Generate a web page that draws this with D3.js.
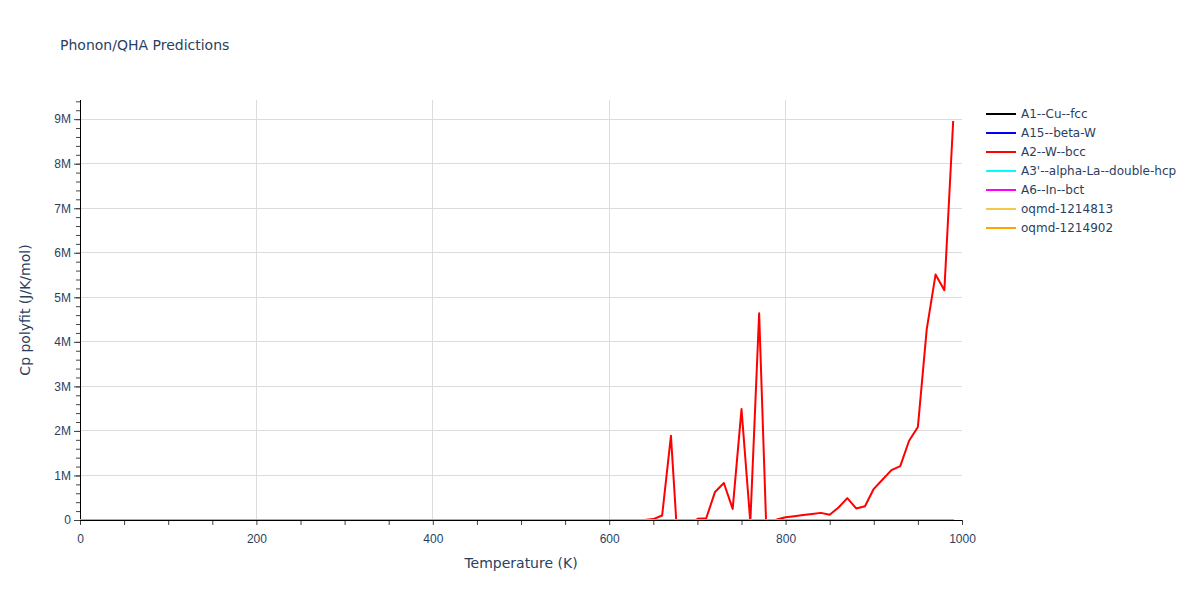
<!DOCTYPE html>
<html>
<head>
<meta charset="utf-8">
<script src="https://cdn.jsdelivr.net/npm/d3@7"></script>
<style>
  html, body { margin: 0; padding: 0; background: #fff; }
  svg { display: block; font-family: "DejaVu Sans", verdana, arial, sans-serif; }
</style>
</head>
<body>
<svg id="chart" width="1200" height="600"></svg>
<script>
// ---- data ----
const seriesNames = ["A1--Cu--fcc", "A15--beta-W", "A2--W--bcc", "A3'--alpha-La--double-hcp", "A6--In--bct", "oqmd-1214813", "oqmd-1214902"];
const seriesColors = ["#000000", "#0000ff", "#ff0000", "#00ffff", "#ff00ff", "#f2c94c", "#ffa500"];

// temperatures (K), 0..990 step 10
const temperatures = [0,10,20,30,40,50,60,70,80,90,100,110,120,130,140,150,160,170,180,190,200,210,220,230,240,250,260,270,280,290,300,310,320,330,340,350,360,370,380,390,400,410,420,430,440,450,460,470,480,490,500,510,520,530,540,550,560,570,580,590,600,610,620,630,640,650,660,670,680,690,700,710,720,730,740,750,760,770,780,790,800,810,820,830,840,850,860,870,880,890,900,910,920,930,940,950,960,970,980,990];

// Cp (J/K/mol) of the well-behaved phases: indistinguishable from 0 at this scale
const cpA1 =  [0,2,9,14,17,19,20,21,22,22,23,23,23,23,24,24,24,24,24,24,24,24,24,24,24,24,24,24,24,24,24,25,25,25,25,25,25,25,25,25,25,25,25,25,25,25,25,25,25,25,25,25,25,25,25,25,25,25,25,25,25,25,25,25,25,25,25,25,25,25,25,25,25,25,25,25,25,25,25,25,25,25,25,25,25,25,25,25,25,25,25,25,25,25,25,25,25,25,25,25];
const cpA15 = [0,3,10,15,18,20,21,22,22,23,23,23,24,24,24,24,24,24,24,24,24,24,24,24,24,24,24,24,24,24,25,25,25,25,25,25,25,25,25,25,25,25,25,25,25,25,25,25,25,25,25,25,25,25,25,25,25,25,25,25,25,25,25,25,25,25,25,25,25,25,25,25,25,25,25,25,25,25,25,25,25,25,25,25,25,25,25,25,25,25,25,25,25,25,25,25,25,25,25,25];
const cpA2 = [0,0,0,0,0,0,0,0,0,0,0,0,0,0,0,0,0,0,0,0,0,0,0,0,0,0,0,0,0,0,0,0,0,0,0,0,0,0,0,0,0,0,0,0,0,0,0,0,0,0,0,0,0,0,0,0,0,0,0,0,0,0,0,0,0,
  20000,100000,1890000,-1260000,-2000000,30000,40000,630000,830000,250000,2490000,-50000,4640000,-1310000,10000,
  60000,85000,110000,135000,160000,120000,280000,490000,260000,310000,
  700000,910000,1120000,1210000,1780000,2090000,4280000,5510000,5160000,8960000];
const cpA3 =  [0,4,11,16,19,20,21,22,23,23,23,24,24,24,24,24,24,24,24,24,24,24,24,24,24,25,25,25,25,25,25,25,25,25,25,25,25,25,25,25,25,25,25,25,25,25,25,25,25,25,25,25,25,25,25,25,25,25,25,25,25,25,25,25,25,25,25,25,25,25,25,25,25,25,25,25,25,25,25,25,25,25,25,25,25,25,25,25,25,25,25,25,25,25,25,25,25,25,25,25];
const cpA6 =  [0,5,13,18,20,21,22,23,23,24,24,24,24,24,24,24,24,24,24,25,25,25,25,25,25,25,25,25,25,25,25,25,25,25,25,25,25,25,25,25,25,25,25,25,25,25,25,25,25,25,25,25,25,25,25,25,25,25,25,25,25,25,25,25,25,25,25,25,25,25,25,25,25,25,25,25,25,25,25,25,25,25,25,25,25,25,25,25,25,25,25,25,25,25,25,25,25,25,25,25];
const cpOq1 = [0,3,10,15,18,20,21,22,22,23,23,23,24,24,24,24,24,24,24,24,24,24,24,24,24,24,24,24,24,24,24,25,25,25,25,25,25,25,25,25,25,25,25,25,25,25,25,25,25,25,25,25,25,25,25,25,25,25,25,25,25,25,25,25,25,25,25,25,25,25,25,25,25,25,25,25,25,25,25,25,25,25,25,25,25,25,25,25,25,25,25,25,25,25,25,25,25,25,25,25];
const cpOq2 = [0,3,10,15,18,20,21,22,22,23,23,23,24,24,24,24,24,24,24,24,24,24,24,24,24,24,24,24,24,24,24,25,25,25,25,25,25,25,25,25,25,25,25,25,25,25,25,25,25,25,25,25,25,25,25,25,25,25,25,25,25,25,25,25,25,25,25,25,25,25,25,25,25,25,25,25,25,25,25,25,25,25,25,25,25,25,25,25,25,25,25,25,25,25,25,25,25,25,25,25];

const seriesValues = [cpA1, cpA15, cpA2, cpA3, cpA6, cpOq1, cpOq2];

const xTickValues = [0, 200, 400, 600, 800, 1000];
const yTickValues = [0, 1e6, 2e6, 3e6, 4e6, 5e6, 6e6, 7e6, 8e6, 9e6];
const yTickLabels = ["0", "1M", "2M", "3M", "4M", "5M", "6M", "7M", "8M", "9M"];

// ---- layout ----
const M = { left: 80, right: 962, top: 100, bottom: 520 };
const textColor = "#2a3f5f";
const gridColor = "#dcdcdc";

const svg = d3.select("#chart");
const x = d3.scaleLinear().domain([0, 1000]).range([M.left, M.right]);
const y = d3.scaleLinear().domain([0, 9.43e6]).range([M.bottom, M.top]);

// gridlines
svg.append("g").selectAll("line").data(xTickValues.filter(v => v > 0 && v < 1000)).join("line")
  .attr("x1", d => x(d)).attr("x2", d => x(d)).attr("y1", M.top).attr("y2", M.bottom)
  .attr("stroke", gridColor).attr("stroke-width", 1).attr("shape-rendering", "crispEdges");
svg.append("g").selectAll("line").data(yTickValues.filter(v => v > 0)).join("line")
  .attr("x1", M.left).attr("x2", M.right).attr("y1", d => y(d)).attr("y2", d => y(d))
  .attr("stroke", gridColor).attr("stroke-width", 1).attr("shape-rendering", "crispEdges");

// clip
svg.append("defs").append("clipPath").attr("id", "plotclip").append("rect")
  .attr("x", M.left).attr("y", M.top).attr("width", M.right - M.left).attr("height", M.bottom - M.top);

// x axis
const xAxisMinor = d3.axisBottom(x).tickValues(d3.range(0, 1001, 50)).tickSize(5).tickFormat("");
const gxm = svg.append("g").attr("transform", `translate(0,${M.bottom})`).call(xAxisMinor);
gxm.select(".domain").remove();
gxm.selectAll("line").attr("stroke", "#444");
const xAxis = d3.axisBottom(x).tickValues(xTickValues).tickSize(0).tickPadding(14).tickFormat(d3.format("d"));
const gx = svg.append("g").attr("transform", `translate(0,${M.bottom})`).call(xAxis);
gx.select(".domain").remove();
gx.selectAll("text").attr("fill", textColor).attr("font-size", 12).attr("font-family", null);

// y axis
const yAxisMinor = d3.axisLeft(y).tickValues(d3.range(0, 9.41e6, 2e5)).tickSize(4).tickFormat("");
const gym = svg.append("g").attr("transform", `translate(${M.left},0)`).call(yAxisMinor);
gym.select(".domain").remove();
gym.selectAll("line").attr("stroke", "#444");
const yAxis = d3.axisLeft(y).tickValues(yTickValues).tickSize(6).tickPadding(3)
  .tickFormat((d, i) => yTickLabels[i]);
const gy = svg.append("g").attr("transform", `translate(${M.left},0)`).call(yAxis);
gy.select(".domain").remove();
gy.selectAll("line").attr("stroke", "#444");
gy.selectAll("text").attr("fill", textColor).attr("font-size", 12).attr("font-family", null);

// series lines
const line = d3.line().x(d => x(d[0])).y(d => y(d[1]));
const gLines = svg.append("g").attr("clip-path", "url(#plotclip)");
seriesNames.forEach((name, i) => {
  const pts = temperatures.map((t, j) => [t, seriesValues[i][j]]);
  gLines.append("path").datum(pts).attr("d", line)
    .attr("fill", "none").attr("stroke", seriesColors[i]).attr("stroke-width", 2)
    .attr("stroke-linejoin", "round");
});

// axis lines
svg.append("line").attr("x1", M.left).attr("x2", M.left).attr("y1", M.top).attr("y2", M.bottom + 0.5)
  .attr("stroke", "#000").attr("stroke-width", 1).attr("shape-rendering", "crispEdges");
svg.append("line").attr("x1", M.left).attr("x2", M.right).attr("y1", M.bottom).attr("y2", M.bottom)
  .attr("stroke", "#000").attr("stroke-width", 1).attr("shape-rendering", "crispEdges");
gLines.raise();

// titles
svg.append("text").attr("x", 60).attr("y", 50).attr("fill", textColor).attr("font-size", 14)
  .text("Phonon/QHA Predictions");
svg.append("text").attr("x", (M.left + M.right) / 2).attr("y", 568).attr("text-anchor", "middle")
  .attr("fill", textColor).attr("font-size", 14).text("Temperature (K)");
svg.append("text").attr("transform", `translate(30,${(M.top + M.bottom) / 2}) rotate(-90)`)
  .attr("text-anchor", "middle").attr("fill", textColor).attr("font-size", 14)
  .text("Cp polyfit (J/K/mol)");

// legend
const legend = svg.append("g");
seriesNames.forEach((name, i) => {
  const ly = 114 + i * 19;
  legend.append("line").attr("x1", 986).attr("x2", 1016).attr("y1", ly).attr("y2", ly)
    .attr("stroke", seriesColors[i]).attr("stroke-width", 2);
  legend.append("text").attr("x", 1021).attr("y", ly + 4).attr("fill", textColor).attr("font-size", 12)
    .text(name);
});
</script>
</body>
</html>
